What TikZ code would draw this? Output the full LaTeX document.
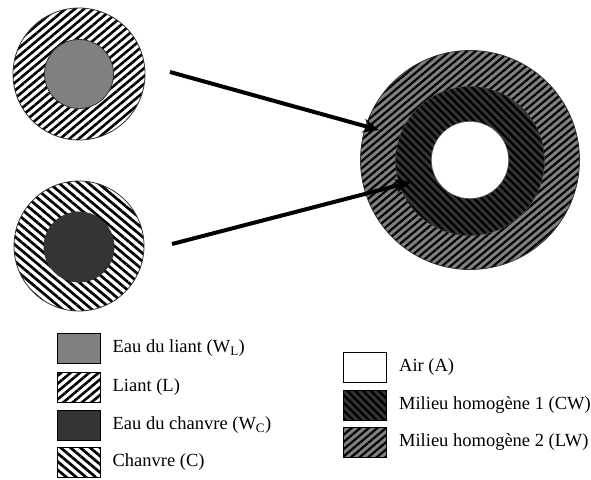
\documentclass[tikz,border=0pt]{standalone}
\usepackage{fontspec}
\setmainfont{Liberation Serif}
\usetikzlibrary{positioning, arrows.meta, patterns.meta}
\definecolor{grisliant}{RGB}{128,128,128}
\definecolor{grischanvre}{RGB}{52,52,52}
\tikzset{
	x=1pt, y=-1pt, % Coordonnees en pixels
	node distance=12pt, % Distance entre case et texte
	every node/.style={font=\fontsize{18.5}{22}\selectfont},
	bord/.style={draw=black!80, line width=0.8pt}, % Contour des cercles
	liant/.style={pattern={Lines[angle=40,distance=6pt,line width=2.6pt]}, pattern color=black, preaction={fill=white}},
	chanvre/.style={pattern={Lines[angle=-40,distance=6.3pt,line width=2.7pt]}, pattern color=black, preaction={fill=white}},
	mhun/.style={pattern={Lines[angle=-45,distance=5.5pt,line width=2.3pt]}, pattern color=black, preaction={fill=grischanvre}},
	mhdeux/.style={pattern={Lines[angle=40,distance=5.5pt,line width=2.2pt]}, pattern color=black, preaction={fill=grisliant}},
	case/.style={draw=black, line width=0.9pt, minimum width=43pt, minimum height=30pt, inner sep=0pt}, % Cases de la legende
	texte/.style={right=12pt of #1, anchor=west, inner sep=0pt},
	fleche/.style={line width=4pt, -{Stealth[length=16pt,width=14pt]}}
}

\begin{document}
\begin{tikzpicture}
			\useasboundingbox (0,0) rectangle (591,479);
			% Grain de liant
			\node[circle, bord, liant, minimum size=132pt] (L) at (79,74) {};
			\node[circle, bord, fill=grisliant, minimum size=69pt] (WL) at (79,74) {};
			% Grain de chanvre
			\node[circle, bord, chanvre, minimum size=130pt] (C) at (79,246) {};
			\node[circle, bord, fill=grischanvre, minimum size=70pt] (WC) at (79,247) {};
			% Milieu homogene
			\node[circle, bord, mhdeux, minimum size=219pt] (LW) at (470,160) {};
			\node[circle, draw=black!70, mhun, minimum size=149pt] (CW) at (470,161) {};
			\node[circle, draw=black!60, fill=white, minimum size=77pt] (A) at (470,160) {};
			\coordinate (d1) at (170,72);
			\coordinate (d2) at (172,244);
			\coordinate (f1) at (379,130);
			\coordinate (f2) at (411,182);
			\draw[fleche] (d1) -- (f1);
			\draw[fleche] (d2) -- (f2);
			% Legende gauche
			\node[case, fill=grisliant] (cWL) at (78.5,348) {};
			\node[case, liant] (cL) at (78.5,387) {};
			\node[case, fill=grischanvre] (cWC) at (78.5,425) {};
			\node[case, chanvre] (cC) at (78.5,462.5) {};
			\node[texte=cWL] {Eau du liant (W\textsubscript{L})};
			\node[texte=cL] {Liant (L)};
			\node[texte=cWC] {Eau du chanvre (W\textsubscript{C})};
			\node[texte=cC] {Chanvre (C)};
			% Legende droite
			\node[case, fill=white] (cA) at (365,367) {};
			\node[case, mhun] (cCW) at (365,405.5) {};
			\node[case, mhdeux] (cLW) at (365,442.5) {};
			\node[texte=cA] {Air (A)};
			\node[texte=cCW] {Milieu homogène 1 (CW)};
			\node[texte=cLW] {Milieu homogène 2 (LW)};
\end{tikzpicture}
\end{document}
